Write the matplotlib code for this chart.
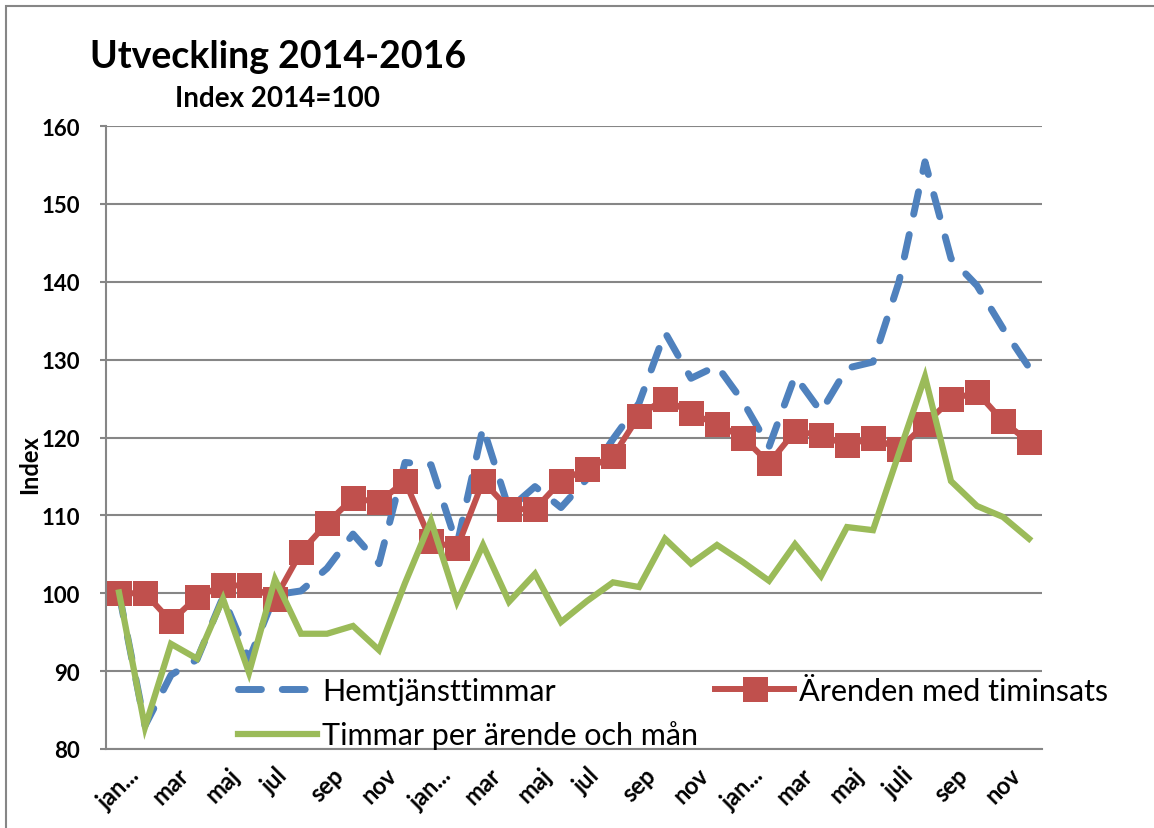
import matplotlib
matplotlib.use("Agg")
import matplotlib.pyplot as plt
from matplotlib.patches import Rectangle

plt.rcParams['font.family'] = ['Lato', 'DejaVu Sans']

# monthly data jan 2014 - dec 2016, index 2014 = 100
hemtjanst = [100, 83, 89.5, 91.5, 99.5, 91.5, 99.8, 100.3, 103.2, 107.6, 103.8, 116.8,
             116.5, 106.2, 121.3, 110.8, 113.7, 111.0, 114.7, 119.8, 124.4, 133.5, 127.6, 129.2,
             124.6, 118.8, 127.9, 123.3, 128.9, 129.7, 140.0, 155.4, 143.0, 139.5, 134.0, 129.0]
arenden = [100, 100, 96.4, 99.5, 101, 101, 99.3, 105.3, 109, 112.2, 111.7, 114.4,
           106.7, 105.8, 114.4, 110.8, 110.8, 114.4, 116, 117.6, 122.8, 125, 123.1, 121.7,
           120, 116.7, 120.8, 120.3, 119, 120, 118.5, 121.7, 124.9, 125.8, 122.1, 119.4]
timmar = [100.1, 82.8, 93.5, 91.6, 99.3, 89.8, 101.8, 94.8, 94.8, 95.8, 92.7, 101.3,
          109.3, 98.9, 106.2, 98.9, 102.5, 96.3, 99.0, 101.4, 100.8, 107.0, 103.8, 106.2,
          104.0, 101.6, 106.3, 102.2, 108.5, 108.1, 118.0, 127.8, 114.4, 111.2, 109.8, 107.0]
tick_labels = ['jan...', 'mar', 'maj', 'jul', 'sep', 'nov',
               'jan...', 'mar', 'maj', 'jul', 'sep', 'nov',
               'jan...', 'mar', 'maj', 'juli', 'sep', 'nov']

x = list(range(len(arenden)))
grey = '#868686'

fig = plt.figure(figsize=(11.54, 8.29), dpi=100)
ax = fig.add_axes([106/1154, 79/829, 936/1154, 623/829])

l1, = ax.plot(x, hemtjanst, color='#4F81BD', lw=5, dashes=(3.3, 3.0),
              dash_capstyle='round', solid_capstyle='round', zorder=2,
              label='Hemtjänsttimmar')
l2, = ax.plot(x, arenden, color='#C0504D', lw=4.3, marker='s', markersize=18,
              markeredgewidth=0, zorder=3, label='Ärenden med timinsats')
l3, = ax.plot(x, timmar, color='#9BBB59', lw=4.5, zorder=4,
              solid_joinstyle='miter', label='Timmar per ärende och mån')

ax.set_xlim(-0.5, len(x) - 0.5)
ax.set_ylim(80, 160)
ax.set_yticks(range(80, 161, 10))
ax.set_xticks(x[::2])
ax.set_xticklabels(tick_labels, rotation=45, ha='center', va='top',
                   fontsize=17, fontweight='bold')
for t in ax.get_yticklabels():
    t.set_fontsize(16)
    t.set_fontweight('bold')
ax.tick_params(axis='y', length=4, color=grey, width=1.5, pad=15)
ax.tick_params(axis='x', length=0, pad=10)
ax.grid(axis='y', color=grey, lw=1.5)
ax.set_axisbelow(True)
for s in ['top', 'right']:
    ax.spines[s].set_visible(False)
for s in ['left', 'bottom']:
    ax.spines[s].set_color(grey)
    ax.spines[s].set_linewidth(1.5)

fig.text(90/1154, 1 - 68/829, 'Utveckling 2014-2016', fontsize=27,
         fontweight='bold', va='baseline')
fig.text(175/1154, 1 - 107/829, 'Index 2014=100', fontsize=20,
         fontweight='bold', va='baseline')
fig.text(30/1154, 1 - 465/829, 'Index', rotation=90, fontsize=17,
         fontweight='bold', ha='center', va='center')

fig.legend(handles=[l1, l3, l2], ncol=2, frameon=False, fontsize=22,
           loc='upper left', bbox_to_anchor=(238/1154, 1 - 678/829),
           handlelength=2.6, handletextpad=0.15, columnspacing=0.55,
           labelspacing=0.5, borderpad=0, borderaxespad=0)

fig.add_artist(Rectangle((6/1154, -0.1), 1.2, 1.1 - 7/829,
                         transform=fig.transFigure, fill=False,
                         edgecolor=grey, lw=1.5))

fig.savefig('out.png', dpi=100)
